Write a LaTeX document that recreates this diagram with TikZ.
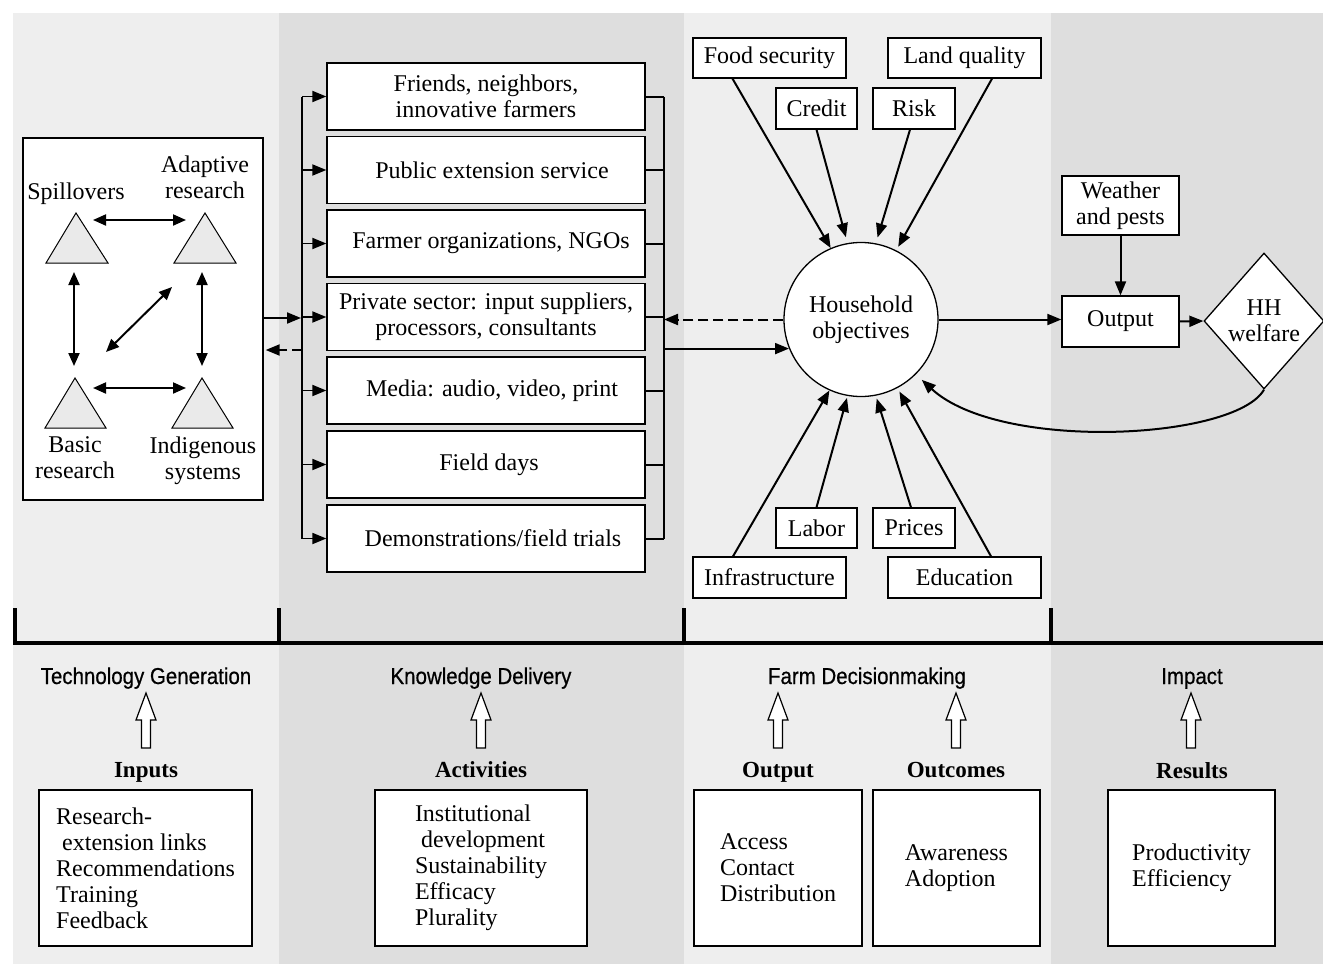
\documentclass[tikz,border=0pt]{standalone}
\usepackage{fontspec}
\setmainfont{Liberation Serif}
\newfontfamily\secfont[FakeStretch=0.89,FakeBold=0.6]{Liberation Sans}
\usetikzlibrary{arrows.meta,shapes.geometric,calc}
\definecolor{bgl}{RGB}{238,238,238}
\definecolor{bgd}{RGB}{222,222,222}
\definecolor{trifill}{RGB}{234,234,234}
\newcommand{\hollowup}[1]{\draw[hollowarrow] (#1) ++(-4.5,0) -- ++(0,-28) -- ++(-5.5,0) -- ++(10,-27) -- ++(10,27) -- ++(-5.5,0) -- ++(0,28) -- cycle;}
\begin{document}
\begin{tikzpicture}[x=1pt,y=-1pt,
  every node/.style={font=\fontsize{24}{26}\selectfont, inner sep=0pt},
  box/.style={draw, fill=white, line width=1.3pt, align=center},
  listbox/.style={draw, fill=white, line width=1.3pt, align=left, minimum height=156},
  arr/.style={line width=2pt, -{Triangle[length=14pt,width=11pt]}},
  darr/.style={line width=2pt, {Triangle[length=13pt,width=11pt]}-{Triangle[length=13pt,width=11pt]}},
  dashline/.style={dash pattern=on 10pt off 5pt},
  bracketline/.style={line width=2pt},
  tri/.style={draw, fill=trifill, line width=1pt, line join=miter},
  seclab/.style={font=\secfont\fontsize{23}{26}\selectfont, anchor=base},
  boldlab/.style={font=\bfseries\fontsize{23}{26}\selectfont, anchor=base},
  hollowarrow/.style={draw, fill=white, line width=1.2pt, line join=miter},
  axis/.style={line width=4pt, line cap=butt}]
\useasboundingbox (0,0) rectangle (1323,964);
% backgrounds
\fill[bgl] (13,13) rectangle (279,964);
\fill[bgd] (279,13) rectangle (684,964);
\fill[bgl] (684,13) rectangle (1051,964);
\fill[bgd] (1051,13) rectangle (1323,964);

% ---------- Technology generation box ----------
\node[draw, fill=white, line width=1.3pt, minimum width=240, minimum height=362] (lbox) at (143,319) {};
\draw[tri] (46,263) -- (76,213) -- (108,263) -- cycle;
\draw[tri] (174,263) -- (205,213) -- (236,263) -- cycle;
\draw[tri] (45,428) -- (75,378) -- (106,428) -- cycle;
\draw[tri] (172,428) -- (202,378) -- (233,428) -- cycle;
\node (spill) at (76,193.4) {Spillovers};
\node[align=center] (adapt) at (205,176.8) {Adaptive\\research};
\node[align=center] (basic) at (75,457.8) {Basic\\research};
\node[align=center] (indig) at (203,460.4) {Indigenous\\systems};
\coordinate (tS1) at (93,220); \coordinate (tA1) at (186,220);
\coordinate (tB1) at (93,388); \coordinate (tI1) at (186,388);
\coordinate (tS2) at (74,272); \coordinate (tB2) at (74,366);
\coordinate (tA2) at (202,272); \coordinate (tI2) at (202,366);
\coordinate (tB3) at (106,352); \coordinate (tA3) at (172,287);
\draw[darr] (tS1) -- (tA1);
\draw[darr] (tB1) -- (tI1);
\draw[darr] (tS2) -- (tB2);
\draw[darr] (tA2) -- (tI2);
\draw[darr] (tB3) -- (tA3);

% ---------- Knowledge delivery boxes ----------
\node[box, minimum width=318, minimum height=67] (k1) at (486,96.5) {Friends, neighbors,\\innovative farmers};
\node[box, minimum width=318, minimum height=67] (k2) at (486,170) {\hspace*{12pt}Public extension service};
\node[box, minimum width=318, minimum height=67] (k3) at (486,243.5) {\hspace*{10pt}Farmer organizations, NGOs};
\node[box, minimum width=318, minimum height=67] (k4) at (486,317) {Private sector: input suppliers,\\processors, consultants};
\node[box, minimum width=318, minimum height=67] (k5) at (486,390.5) {\hspace*{12pt}Media: audio, video, print};
\node[box, minimum width=318, minimum height=67] (k6) at (486,464.5) {\hspace*{6pt}Field days};
\node[box, minimum width=318, minimum height=67] (k7) at (486,538.5) {\hspace*{14pt}Demonstrations/field trials};

\coordinate (Lt) at (302,96.5); \coordinate (Lb) at (302,538.5);
\coordinate (Rt) at (664,96.5); \coordinate (Rb) at (664,538.5);
\draw[bracketline] (Lt) -- (Lb);
\draw[bracketline] (Rt) -- (Rb);
\foreach \i in {1,...,7}{
  \draw[arr, line width=1.8pt] (k\i.west -| Lt) -- (k\i.west);
  \draw[bracketline] (k\i.east) -- (k\i.east -| Rt);
}
\coordinate (Lm) at (301,318);
\coordinate (Ld) at (302,350);
\draw[arr] (lbox.east |- Lm) -- (Lm);
\draw[arr, dashline, shorten >=2pt] (Ld) -- (lbox.east |- Ld);

% ---------- Farm decisionmaking ----------
\node[draw, circle, fill=white, line width=1.3pt, minimum size=154, align=center] (hh) at (861,319.5) {Household\\objectives};
\node[box, minimum width=153, minimum height=40] (food) at (769.5,58) {Food security};
\node[box, minimum width=153, minimum height=40] (land) at (964.5,58) {Land quality};
\node[box, minimum width=81, minimum height=41] (credit) at (816.5,108.5) {Credit};
\node[box, minimum width=82, minimum height=41] (risk) at (914,108.5) {Risk};
\node[box, minimum width=81, minimum height=40] (labor) at (816.5,528) {Labor};
\node[box, minimum width=82, minimum height=40] (prices) at (914,528) {Prices};
\node[box, minimum width=153, minimum height=41] (infra) at (769.5,577.5) {Infrastructure};
\node[box, minimum width=153, minimum height=41] (edu) at (964.5,577.5) {Education};

\draw[arr] ($(food.south)+(-37,0)$) -- (hh.113);
\draw[arr, shorten >=6pt] (credit.south) -- (hh.100);
\draw[arr, shorten >=6pt] ($(risk.south)+(-4,0)$) -- (hh.79);
\draw[arr, shorten >=4pt] ($(land.south)+(27.5,0)$) -- (hh.63);
\draw[arr] ($(infra.north)+(-36.5,0)$) -- (hh.246);
\draw[arr, shorten >=2pt] (labor.north) -- (hh.260);
\draw[arr, shorten >=3pt] ($(prices.north)+(-3,0)$) -- (hh.281.5);
\draw[arr, shorten >=4pt] ($(edu.north)+(26.5,0)$) -- (hh.298.5);

\draw[arr, dashline] (hh.west) -- (hh.west -| Rt);
\draw[arr] (hh.202 -| Rt) -- (hh.202);

% ---------- Impact ----------
\node[box, minimum width=117, minimum height=59] (weather) at (1120.5,205.5) {Weather\\and pests};
\node[box, minimum width=117, minimum height=51] (out) at (1120.5,321.5) {Output};
\node[draw, diamond, fill=white, line width=1.3pt, minimum width=120, minimum height=136, align=center] (welf) at (1264,321) {HH\\welfare};
\draw[arr] (weather.south) -- (out.north);
\draw[arr] (hh.east) -- (hh.east -| out.west);
\draw[arr] (out.east) -- (welf.west);
\draw[arr, shorten >=8pt] (welf.south) .. controls (1235,440) and (1000,452) .. (hh.315);

% ---------- axis ----------
\draw[axis] (15,608) -- (15,643) -- (1323,643);
\draw[axis] (279,608) -- (279,643);
\draw[axis] (684,608) -- (684,643);
\draw[axis] (1051,608) -- (1051,643);

% ---------- bottom section ----------
\node[seclab] (s1) at (146,684) {Technology Generation};
\node[seclab] (s2) at (481,684) {Knowledge Delivery};
\node[seclab] (s3) at (867,684) {Farm Decisionmaking};
\node[seclab] (s4) at (1192,684) {Impact};

\node[boldlab] (l1) at (146,777) {Inputs};
\node[boldlab] (l2) at (481,777) {Activities};
\node[boldlab] (l3) at (778,777) {Output};
\node[boldlab] (l4) at (956,777) {Outcomes};
\node[boldlab] (l5) at (1192,778) {Results};

\coordinate (u1) at (146,748);
\coordinate (u2) at (481,748);
\coordinate (u3) at (778,748);
\coordinate (u4) at (956,748);
\coordinate (u5) at (1191,748);
\hollowup{u1}\hollowup{u2}\hollowup{u3}\hollowup{u4}\hollowup{u5}

\node[listbox, minimum width=213] (b1) at (145.5,868) {Research-\\\hspace*{6pt}extension links\\Recommendations\\Training\\Feedback};
\node[listbox, minimum width=212] (b2) at (481,868) {Institutional\\\hspace*{6pt}development\\Sustainability\\Efficacy\\Plurality};
\node[listbox, minimum width=168] (b3) at (778,868) {Access\\Contact\\Distribution};
\node[listbox, minimum width=167] (b4) at (956.5,868) {Awareness\\Adoption};
\node[listbox, minimum width=167] (b5) at (1191.5,868) {Productivity\\Efficiency};
\end{tikzpicture}
\end{document}
